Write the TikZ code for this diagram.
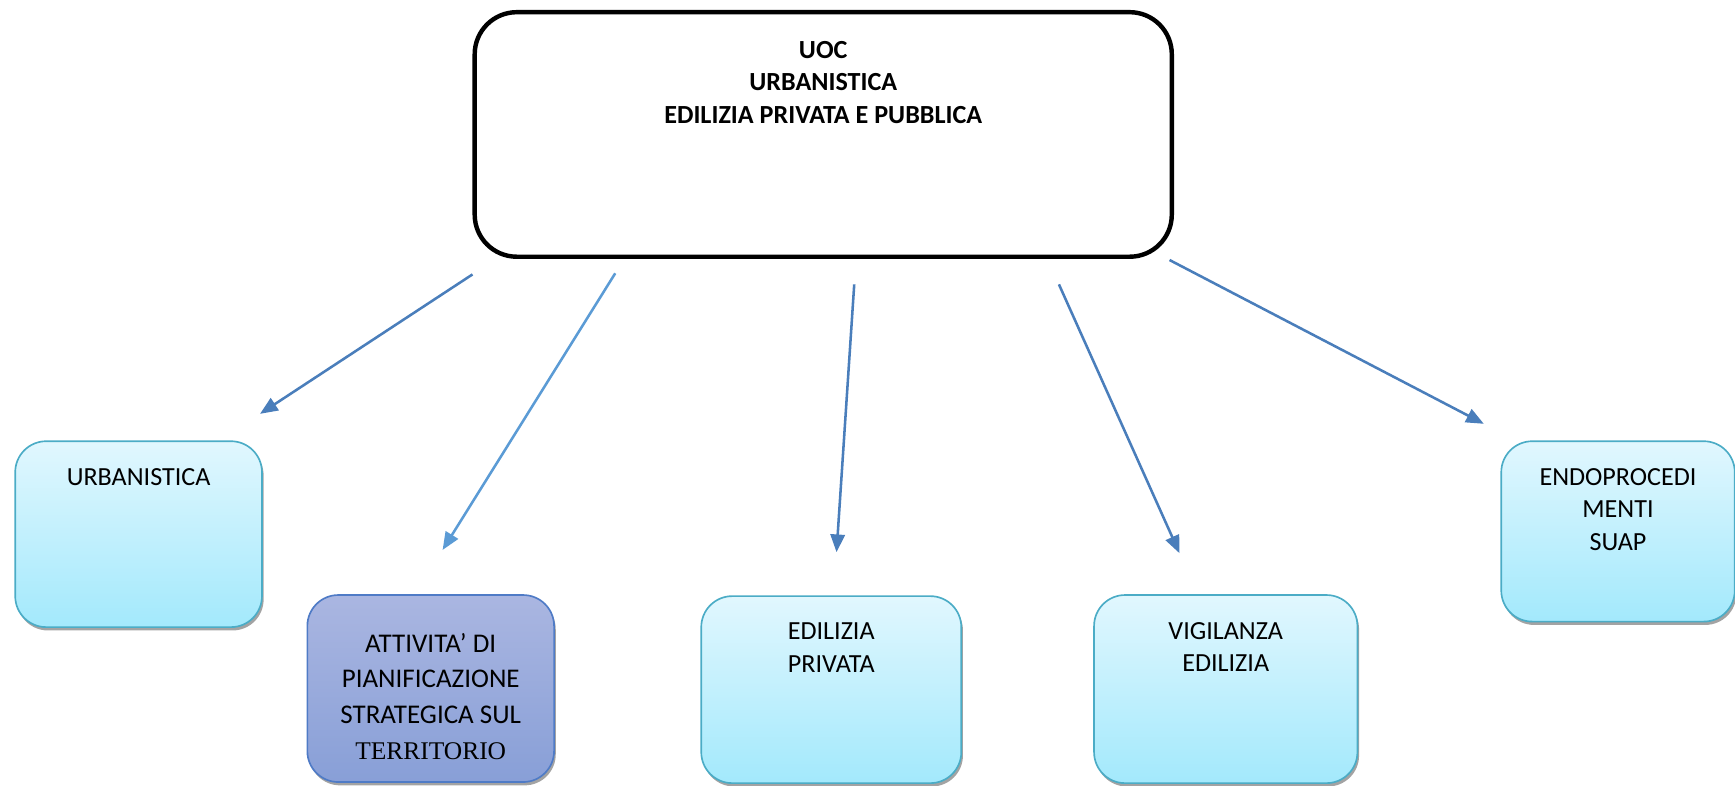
\documentclass[tikz,border=0pt]{standalone}
\usepackage{fontspec}
\setmainfont{Carlito}
\newfontfamily\serifterr{Liberation Serif}
\usetikzlibrary{shadows,arrows.meta}
\definecolor{boxtop}{HTML}{E1F7FE}
\definecolor{boxbottom}{HTML}{A3E9FC}
\definecolor{boxline}{HTML}{4BACC6}
\definecolor{plantop}{HTML}{AAB6E1}
\definecolor{planbottom}{HTML}{889FD7}
\definecolor{planline}{HTML}{4F7BC6}
\definecolor{arrowdark}{HTML}{4A7EBB}
\definecolor{arrowlight}{HTML}{5B9BD5}
\newcommand\unitfont{\fontsize{23.6}{29.5}\selectfont}
\newcommand\planfont{\fontsize{24.4}{32.3}\selectfont}
\tikzset{
  headbox/.style={draw=black,line width=4pt,rounded corners=38pt,fill=white,anchor=north west},
  office/.style={draw=boxline,line width=1.5pt,rounded corners=28pt,anchor=north west,
    top color=boxtop,bottom color=boxbottom,
    drop shadow={shadow xshift=1.5pt,shadow yshift=-3pt,fill=black!45,opacity=.8}},
  planoffice/.style={office,draw=planline,top color=plantop,bottom color=planbottom},
  boxtext/.style={anchor=north,inner sep=0pt,yshift=-25pt,align=center,font=\unitfont},
  feed/.style={-{Triangle[length=16pt,width=13pt]},line width=2.3pt,draw=arrowdark,fill=arrowdark}
}
\begin{document}
\begin{tikzpicture}[x=1pt,y=-1pt]
    \useasboundingbox (0,0) rectangle (1568,710);
    % top unit
    \node[headbox,minimum width=630pt,minimum height=221pt,
      label={[boxtext,yshift=-3pt,font=\unitfont\bfseries]north:UOC\\URBANISTICA\\EDILIZIA PRIVATA E PUBBLICA}] (uoc) at (427,9) {};
    % offices
    \node[office,minimum width=223pt,minimum height=168pt,
      label={[boxtext]north:URBANISTICA}] (urb) at (13,398) {};
    \node[planoffice,minimum width=223pt,minimum height=169pt,
      label={[boxtext,yshift=-10pt,font=\planfont]north:ATTIVITA’ DI\\PIANIFICAZIONE\\STRATEGICA SUL\\{\serifterr\fontsize{23}{32.3}\selectfont TERRITORIO}}] (pian) at (277,537) {};
    \node[office,minimum width=235pt,minimum height=169pt,
      label={[boxtext]north:EDILIZIA\\PRIVATA}] (edpriv) at (633,538) {};
    \node[office,minimum width=238pt,minimum height=170pt,
      label={[boxtext]north:VIGILANZA\\EDILIZIA}] (vig) at (988,537) {};
    \node[office,minimum width=211pt,minimum height=163pt,
      label={[boxtext]north:ENDOPROCEDI\\MENTI\\SUAP}] (suap) at (1356,398) {};
    % free arrow ends
    \coordinate (f1) at (427,248);  \coordinate (t1) at (235,374);
    \coordinate (f2) at (556,247);  \coordinate (t2) at (400,497);
    \coordinate (f3) at (772,257);  \coordinate (t3) at (756,499);
    \coordinate (f4) at (957,257);  \coordinate (t4) at (1066,500);
    \coordinate (f5) at (1057,235); \coordinate (t5) at (1341,383);
    \draw[feed] (f1) -- (t1);
    \draw[feed,draw=arrowlight,fill=arrowlight] (f2) -- (t2);
    \draw[feed] (f3) -- (t3);
    \draw[feed] (f4) -- (t4);
    \draw[feed] (f5) -- (t5);
  \end{tikzpicture}
\end{document}
